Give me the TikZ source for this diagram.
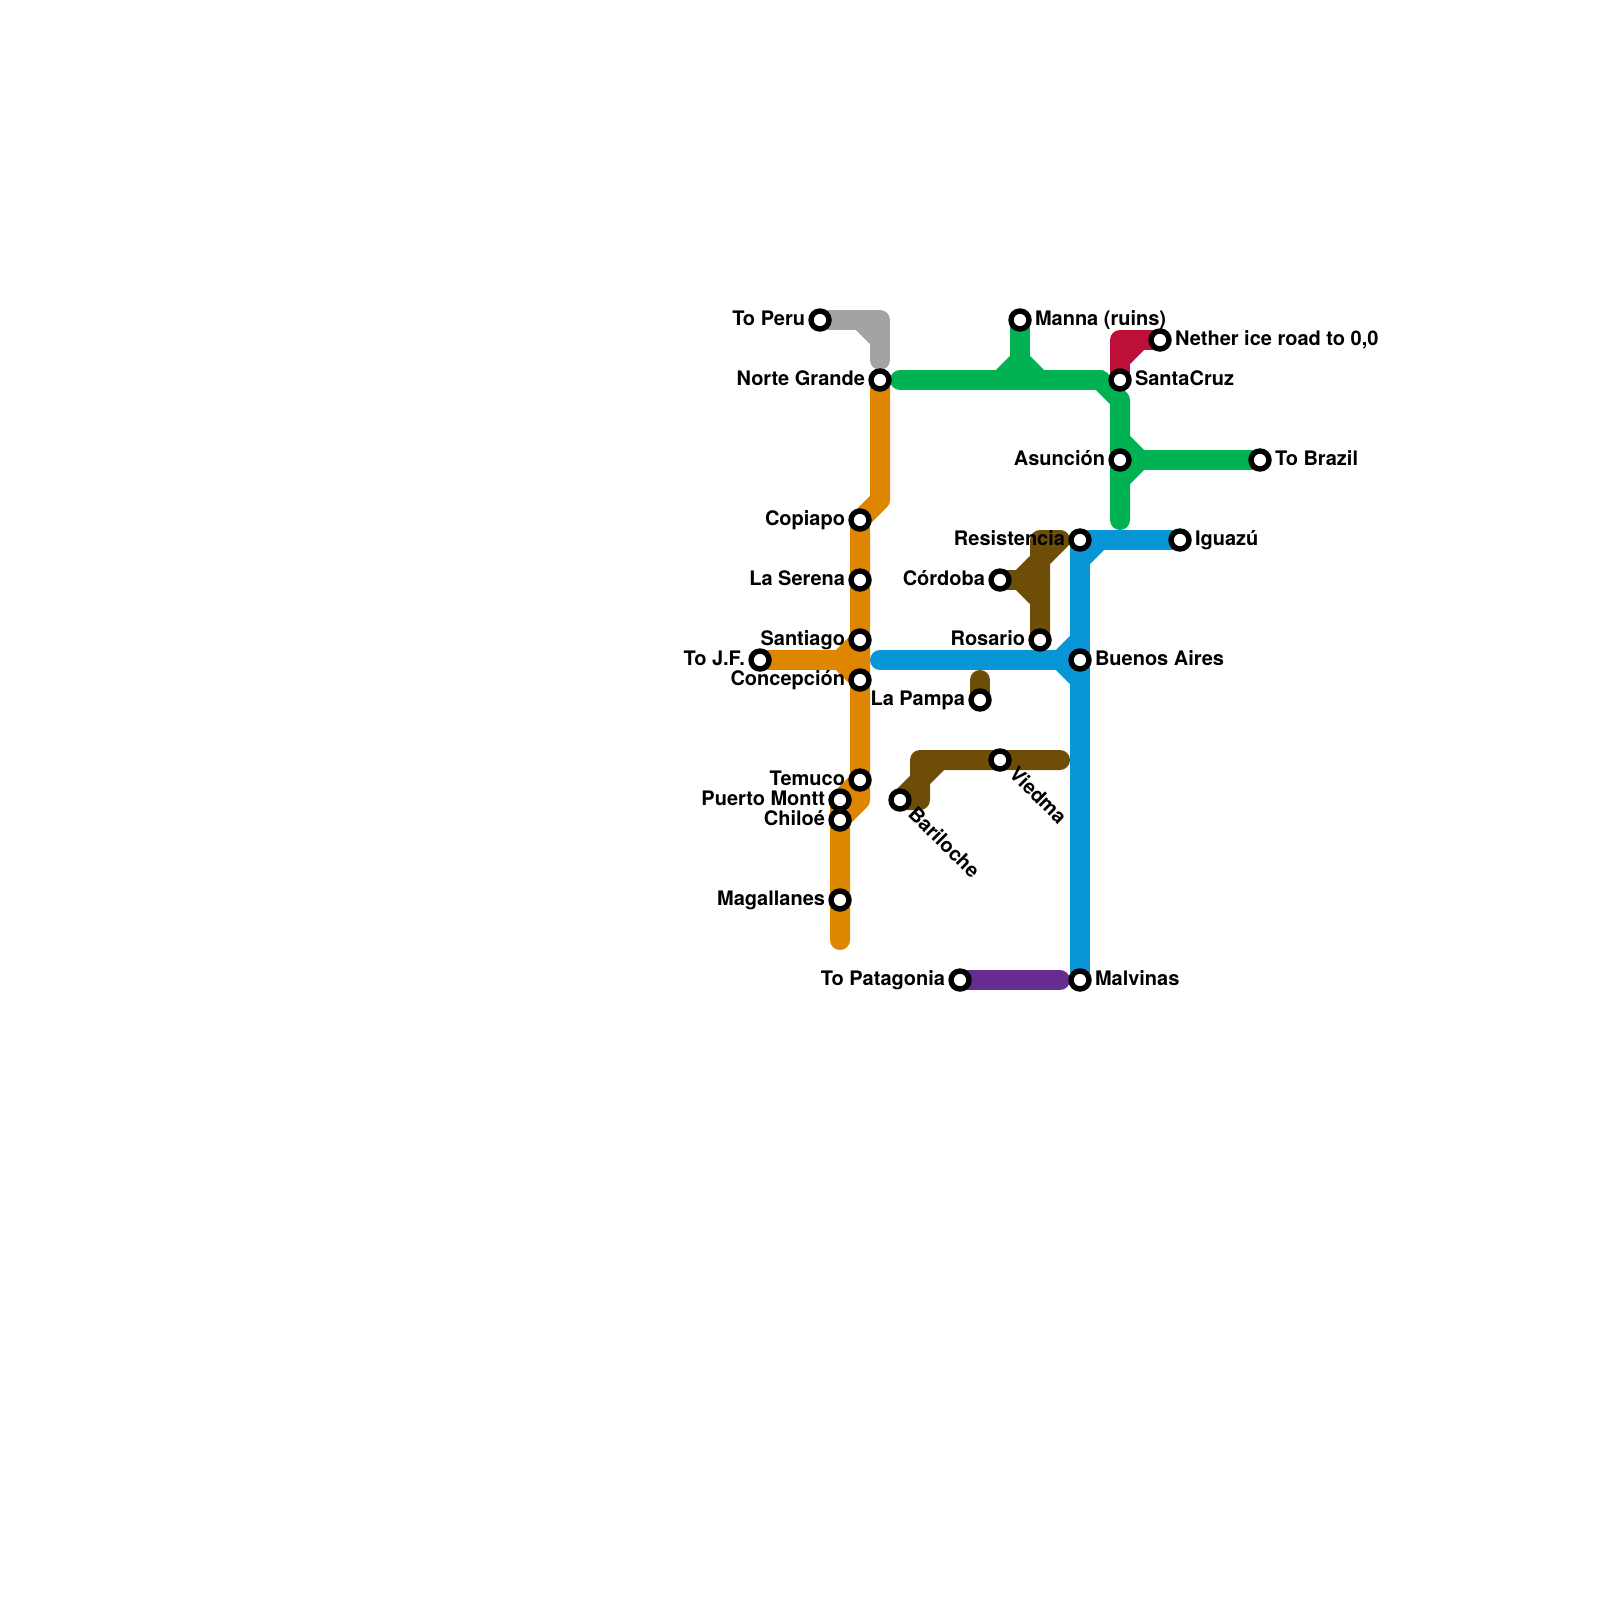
\documentclass[tikz,border=0pt]{standalone}
\usepackage{fontspec}
\setmainfont{TeX Gyre Heros}
\pgfdeclarelayer{rails}
\pgfsetlayers{rails,main}
\definecolor{lorange}{HTML}{DF8600}
\definecolor{lgray}{HTML}{A3A3A3}
\definecolor{lgreen}{HTML}{00B251}
\definecolor{lblue}{HTML}{0896D7}
\definecolor{lbrown}{HTML}{6E4E07}
\definecolor{lred}{HTML}{BD1038}
\definecolor{lpurple}{HTML}{662C90}
\tikzset{
  stn/.style={circle,draw=black,fill=white,line width=2.7pt,minimum size=9pt,inner sep=0pt,outer sep=0pt},
  lab/.style={inner sep=0pt,outer sep=0pt,font=\bfseries\fontsize{10pt}{12pt}\selectfont,text=black},
  labL/.style={lab,anchor=base east},
  labR/.style={lab,anchor=base west},
  labD/.style={lab,anchor=base west,rotate=-45},
  rail/.style={line width=10pt,line cap=round,line join=round},
}
\begin{document}
\begin{tikzpicture}[x=0.5pt,y=-0.5pt]
\useasboundingbox (0,0) rectangle (1600,1600);
% stations
\node[stn] (peru) at (820,320) {};
\node[stn] (norte) at (880,380) {};
\node[stn] (copiapo) at (860,520) {};
\node[stn] (serena) at (860,580) {};
\node[stn] (santiago) at (860,640) {};
\node[stn] (jf) at (760,660) {};
\node[stn] (concepcion) at (860,680) {};
\node[stn] (temuco) at (860,780) {};
\node[stn] (montt) at (840,800) {};
\node[stn] (chiloe) at (840,820) {};
\node[stn] (magallanes) at (840,900) {};
\node[stn] (bariloche) at (900,800) {};
\node[stn] (viedma) at (1000,760) {};
\node[stn] (pampa) at (980,700) {};
\node[stn] (rosario) at (1040,640) {};
\node[stn] (cordoba) at (1000,580) {};
\node[stn] (resistencia) at (1080,540) {};
\node[stn] (manna) at (1020,320) {};
\node[stn] (santacruz) at (1120,380) {};
\node[stn] (asuncion) at (1120,460) {};
\node[stn] (brazil) at (1260,460) {};
\node[stn] (nether) at (1160,340) {};
\node[stn] (iguazu) at (1180,540) {};
\node[stn] (baires) at (1080,660) {};
\node[stn] (malvinas) at (1080,980) {};
\node[stn] (patagonia) at (960,980) {};
% labels
\node[labL] (tperu) at (805,325) {To Peru};
\node[labL] (tnorte) at (865,385) {Norte Grande};
\node[labL] (tcopiapo) at (845,525) {Copiapo};
\node[labL] (tserena) at (845,585) {La Serena};
\node[labL] (tsantiago) at (845,645) {Santiago};
\node[labL] (tjf) at (745,665) {To J.F.};
\node[labL] (tconcepcion) at (845,685) {Concepción};
\node[labL] (ttemuco) at (845,785) {Temuco};
\node[labL] (tmontt) at (825,805) {Puerto Montt};
\node[labL] (tchiloe) at (825,825) {Chiloé};
\node[labL] (tmagallanes) at (825,905) {Magallanes};
\node[labL] (tpampa) at (965,705) {La Pampa};
\node[labL] (trosario) at (1025,645) {Rosario};
\node[labL] (tcordoba) at (985,585) {Córdoba};
\node[labL] (tresistencia) at (1065,545) {Resistencia};
\node[labL] (tasuncion) at (1105,465) {Asunción};
\node[labL] (tpatagonia) at (945,985) {To Patagonia};
\node[labR] (tmanna) at (1035,325) {Manna (ruins)};
\node[labR] (tsantacruz) at (1135,385) {SantaCruz};
\node[labR] (tbrazil) at (1275,465) {To Brazil};
\node[labR] (tnether) at (1175,345) {Nether ice road to 0,0};
\node[labR] (tiguazu) at (1195,545) {Iguazú};
\node[labR] (tbaires) at (1095,665) {Buenos Aires};
\node[labR] (tmalvinas) at (1095,985) {Malvinas};
\node[labD] (tbariloche) at (907,815) {Bariloche};
\node[labD] (tviedma) at (1008,775) {Viedma};
% waypoints
\coordinate (g1) at (880,320);
\coordinate (g2) at (860,320);
\coordinate (g3) at (880,340);
\coordinate (g4) at (880,360);
\coordinate (o1) at (880,500);
\coordinate (o2) at (840,660);
\coordinate (o3) at (860,800);
\coordinate (o4) at (840,940);
\coordinate (n1) at (900,380);
\coordinate (n2) at (1000,380);
\coordinate (n3) at (1020,360);
\coordinate (n4) at (1040,380);
\coordinate (n5) at (1100,380);
\coordinate (n6) at (1120,400);
\coordinate (n7) at (1120,440);
\coordinate (n8) at (1140,460);
\coordinate (n9) at (1120,480);
\coordinate (n10) at (1120,520);
\coordinate (n11) at (1020,380);
\coordinate (r1) at (1120,340);
\coordinate (r2) at (1120,360);
\coordinate (r3) at (1140,340);
\coordinate (b1) at (880,660);
\coordinate (b2) at (1060,660);
\coordinate (b3) at (1080,640);
\coordinate (b4) at (1080,680);
\coordinate (b5) at (1080,560);
\coordinate (b6) at (1100,540);
\coordinate (w1) at (1060,540);
\coordinate (w2) at (1040,540);
\coordinate (w3) at (1040,560);
\coordinate (w4) at (1040,600);
\coordinate (w5) at (1020,580);
\coordinate (w6) at (1040,580);
\coordinate (w7) at (980,680);
\coordinate (w8) at (920,760);
\coordinate (w9) at (1060,760);
\coordinate (w10) at (920,800);
\coordinate (w11) at (920,780);
\coordinate (w12) at (940,760);
\coordinate (p1) at (1060,980);
% connectors
\begin{pgfonlayer}{rails}
\draw[rail,lgray] (peru.center) -- (g1) -- (g4);
\draw[rail,lgray] (g2) -- (g3);
\draw[rail,lred] (santacruz.center) -- (r1) -- (nether.center);
\draw[rail,lred] (r2) -- (r3);
\draw[rail,lorange] (norte.center) -- (o1) -- (copiapo.center) -- (temuco.center) -- (o3) -- (chiloe.center);
\draw[rail,lorange] (temuco.center) -- (montt.center) -- (chiloe.center) -- (magallanes.center) -- (o4);
\draw[rail,lorange] (jf.center) -- (o2);
\draw[rail,lorange] (santiago.center) -- (o2) -- (concepcion.center);
\draw[rail,lgreen] (n1) -- (n5);
\draw[rail,lgreen] (n2) -- (n3) -- (n4);
\draw[rail,lgreen] (manna.center) -- (n11);
\draw[rail,lgreen] (n5) -- (n6) -- (n10);
\draw[rail,lgreen] (n7) -- (n8) -- (n9);
\draw[rail,lgreen] (asuncion.center) -- (brazil.center);
\draw[rail,lbrown] (rosario.center) -- (w2) -- (w1) -- (w3);
\draw[rail,lbrown] (cordoba.center) -- (w6);
\draw[rail,lbrown] (w3) -- (w5) -- (w4);
\draw[rail,lbrown] (pampa.center) -- (w7);
\draw[rail,lbrown] (w9) -- (w8) -- (w10) -- (bariloche.center) -- (w11) -- (w12);
\draw[rail,lpurple] (patagonia.center) -- (p1);
\draw[rail,lblue] (iguazu.center) -- (resistencia.center) -- (malvinas.center);
\draw[rail,lblue] (b5) -- (b6);
\draw[rail,lblue] (b1) -- (b2);
\draw[rail,lblue] (b3) -- (b2) -- (b4);
\end{pgfonlayer}
\end{tikzpicture}
\end{document}
